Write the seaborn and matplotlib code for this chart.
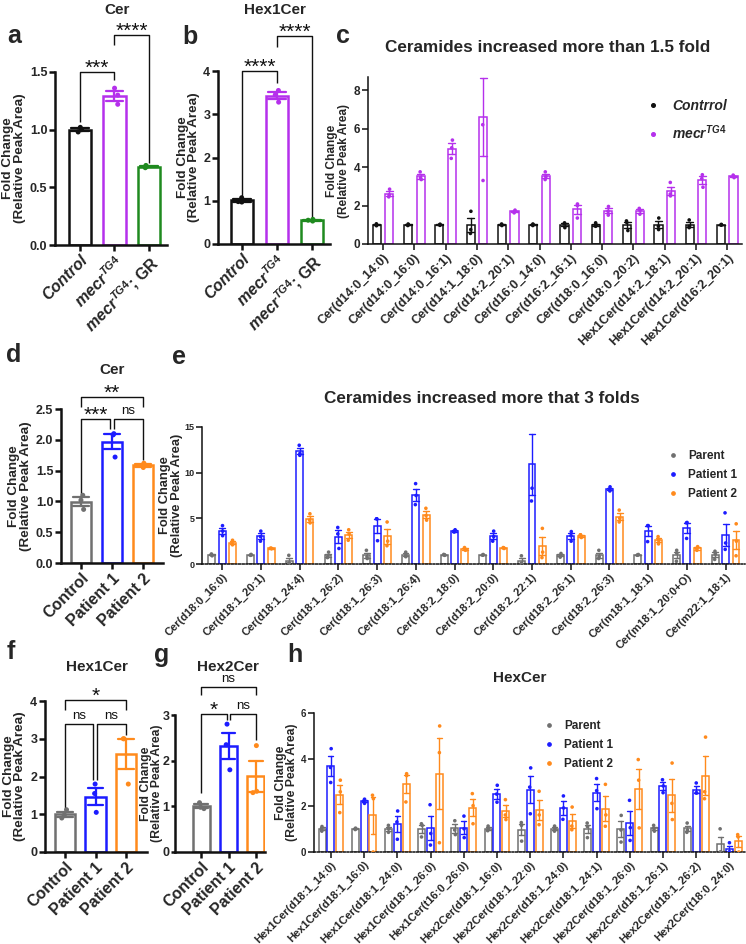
import numpy as np
import pandas as pd
import matplotlib
matplotlib.use("Agg")
import matplotlib.pyplot as plt
from matplotlib.lines import Line2D
import seaborn as sns

# ---------------- data ----------------
a_cats = ["Control", "mecr", "GR"]
a_vals = [[1.02, 1.00, 0.98], [1.36, 1.30, 1.22], [0.69, 0.68, 0.67]]
b_vals = [[1.07, 0.98, 0.97], [3.55, 3.45, 3.28], [0.57, 0.55, 0.53]]

c_groups = ["Cer(d14:0_14:0)", "Cer(d14:0_16:0)", "Cer(d14:0_16:1)", "Cer(d14:1_18:0)",
            "Cer(d14:2_20:1)", "Cer(d16:0_14:0)", "Cer(d16:2_16:1)", "Cer(d18:0_16:0)",
            "Cer(d18:0_20:2)", "Hex1Cer(d14:2_18:1)", "Hex1Cer(d14:2_20:1)", "Hex1Cer(d16:2_20:1)"]
c_control = [[1.05, 1.00, 0.95], [1.04, 1.00, 0.96], [1.03, 1.00, 0.97], [1.70, 0.75, 0.55],
             [1.04, 1.00, 0.96], [1.04, 1.00, 0.96], [1.10, 1.05, 0.85], [1.10, 1.00, 0.92],
             [1.20, 1.12, 0.70], [1.35, 0.92, 0.75], [1.25, 0.92, 0.85], [1.02, 1.00, 0.98]]
c_mecr = [[2.85, 2.55, 2.45], [3.75, 3.45, 3.35], [5.40, 5.00, 4.45], [6.20, 3.30, 10.30],
          [1.76, 1.70, 1.62], [3.75, 3.50, 3.35], [2.08, 2.00, 1.35], [1.95, 1.70, 1.50],
          [1.85, 1.75, 1.55], [3.20, 2.60, 2.50], [3.60, 3.40, 2.95], [3.58, 3.50, 3.45]]

d_cats = ["Control", "Patient 1", "Patient 2"]
d_vals = [[1.10, 1.02, 0.87], [2.10, 2.08, 1.72], [1.62, 1.58, 1.55]]

e_groups = ["Cer(d18:0_16:0)", "Cer(d18:1_20:1)", "Cer(d18:1_24:4)", "Cer(d18:1_26:2)",
            "Cer(d18:1_26:3)", "Cer(d18:1_26:4)", "Cer(d18:2_18:0)", "Cer(d18:2_20:0)",
            "Cer(d18:2_22:1)", "Cer(d18:2_26:1)", "Cer(d18:2_26:3)", "Cer(m18:1_18:1)",
            "Cer(m18:1_20:0+O)", "Cer(m22:1_18:1)"]
e_parent = [[1.10, 1.00, 0.90], [1.05, 1.00, 0.95], [0.95, 0.10, 0.05], [1.30, 0.80, 0.70],
            [1.50, 0.80, 0.60], [1.30, 0.95, 0.80], [1.05, 1.00, 0.95], [1.04, 1.00, 0.96],
            [0.90, 0.10, 0.00], [1.15, 0.95, 0.75], [1.50, 0.80, 0.60], [1.04, 1.00, 0.96],
            [1.50, 1.20, 0.30], [1.40, 1.10, 0.50]]
e_p1 = [[4.20, 3.60, 3.10], [3.60, 3.00, 2.50], [13.00, 12.10, 11.90], [4.00, 3.30, 1.70],
        [4.95, 4.95, 2.55], [8.80, 7.50, 6.50], [3.75, 3.60, 3.50], [3.60, 3.00, 2.50],
        [8.30, 6.90, 17.50], [3.55, 3.10, 2.50], [8.45, 8.20, 8.00], [4.20, 4.20, 2.45],
        [4.55, 4.50, 2.80], [5.60, 2.30, 1.60]]
e_p2 = [[2.60, 2.30, 2.10], [1.75, 1.70, 1.68], [5.50, 4.80, 4.50], [3.75, 3.30, 2.60],
        [4.60, 2.50, 2.00], [6.10, 5.30, 4.80], [1.80, 1.60, 1.50], [1.80, 1.75, 1.70],
        [3.90, 1.30, 0.70], [3.20, 3.20, 2.90], [5.90, 5.00, 4.60], [3.00, 2.60, 2.20],
        [1.90, 1.70, 1.50], [4.40, 2.50, 0.90]]

f_vals = [[1.12, 0.98, 0.90], [1.80, 1.55, 1.05], [3.00, 3.00, 1.80]]
g_vals = [[1.08, 0.98, 0.95], [2.80, 2.35, 1.80], [2.33, 1.33, 1.30]]

h_groups = ["Hex1Cer(d18:1_14:0)", "Hex1Cer(d18:1_16:0)", "Hex1Cer(d18:1_24:0)",
            "Hex1Cer(d18:1_26:0)", "Hex1Cer(t16:0_26:0)", "Hex2Cer(d18:1_16:0)",
            "Hex2Cer(d18:1_22:0)", "Hex2Cer(d18:1_24:0)", "Hex2Cer(d18:1_24:1)",
            "Hex2Cer(d18:1_26:0)", "Hex2Cer(d18:1_26:1)", "Hex2Cer(d18:1_26:2)",
            "Hex2Cer(t18:0_24:0)"]
h_parent = [[1.10, 1.00, 0.90], [1.03, 1.00, 0.97], [1.15, 1.00, 0.85], [1.22, 1.15, 0.65],
            [1.35, 0.95, 0.75], [1.12, 1.00, 0.92], [1.27, 1.15, 0.47], [1.12, 1.00, 0.90],
            [1.25, 1.10, 0.62], [1.58, 0.95, 0.43], [1.15, 1.00, 0.90], [1.25, 0.95, 0.85],
            [1.00, 0.00, 0.00]]
h_p1 = [[4.46, 3.65, 3.00], [2.28, 2.20, 2.10], [1.77, 1.30, 0.55], [2.04, 0.80, 0.30],
        [1.55, 1.00, 0.62], [2.88, 2.50, 2.15], [3.63, 2.80, 1.65], [2.42, 1.90, 1.41],
        [3.17, 2.65, 1.87], [2.23, 1.05, 0.50], [3.12, 2.85, 2.56], [2.98, 2.55, 2.55],
        [0.40, 0.00, 0.00]]
h_p2 = [[3.10, 2.60, 1.70], [2.45, 2.30, 0.00], [3.38, 3.30, 2.16], [5.44, 4.29, 0.40],
        [2.52, 2.00, 1.22], [2.26, 1.60, 1.40], [2.62, 1.60, 1.18], [1.94, 1.12, 0.96],
        [2.92, 1.60, 1.11], [3.99, 3.10, 1.04], [3.84, 2.10, 1.40], [4.96, 2.60, 2.30],
        [0.75, 0.65, 0.00]]

# ---------------- style ----------------
sns.set_theme(style="ticks")
plt.rcParams["font.family"] = ["Liberation Sans", "DejaVu Sans"]
plt.rcParams["font.weight"] = "bold"
plt.rcParams["axes.labelweight"] = "bold"
plt.rcParams["mathtext.fontset"] = "custom"
plt.rcParams["mathtext.it"] = "Liberation Sans:italic:bold"
plt.rcParams["mathtext.rm"] = "Liberation Sans:bold"
plt.rcParams["mathtext.bf"] = "Liberation Sans:bold"
np.random.seed(3)

BLACK = "#111111"
PURPLE = "#B530EC"
GREEN = "#1F8A1F"
GRAY = "#707070"
BLUE = "#1C1CFF"
ORANGE = "#FF8A1C"

W, H = 746, 944
fig = plt.figure(figsize=(W / 100, H / 100), dpi=100)


def add_ax(x0, y0, x1, y1):
    return fig.add_axes([x0 / W, 1 - y1 / H, (x1 - x0) / W, (y1 - y0) / H])


def style_axes(ax, lw, tick_size, ylab_size, labelpad):
    sns.despine(ax=ax)
    for s in ("left", "bottom"):
        ax.spines[s].set_linewidth(lw)
        ax.spines[s].set_color(BLACK)
    ax.tick_params(axis="both", width=lw, length=4, color=BLACK, pad=1.5)
    ax.tick_params(axis="y", labelsize=tick_size)
    ax.set_ylabel("Fold Change\n(Relative Peak Area)", fontsize=ylab_size,
                  fontweight="bold", labelpad=labelpad, linespacing=0.95)
    ax.set_xlabel("")
    for t in ax.get_yticklabels():
        t.set_fontweight("bold")


def simple_panel(ax, vals, colors, width, xlim, ylim, yticks, yfmt, xlabels, lw=1.8,
                 labelpad=3, ylab_size=9.7):
    keys = ["k0", "k1", "k2"]
    df = pd.DataFrame({"grp": np.repeat(keys, [len(v) for v in vals]),
                       "value": np.concatenate(vals)})
    pal = dict(zip(keys, colors))
    sns.barplot(data=df, x="grp", y="value", hue="grp", order=keys, hue_order=keys,
                palette=pal, errorbar="se", capsize=0.5, fill=False, width=width,
                linewidth=lw, err_kws={"linewidth": lw * 0.9}, legend=False, ax=ax)
    sns.stripplot(data=df, x="grp", y="value", hue="grp", order=keys, hue_order=keys,
                  palette=pal, jitter=0.12, size=3.6, legend=False, ax=ax, zorder=5)
    ax.set_xlim(*xlim)
    ax.set_ylim(*ylim)
    ax.set_yticks(yticks)
    ax.set_yticklabels([yfmt.format(v) for v in yticks])
    ax.set_xticks(range(3))
    style_axes(ax, lw, 9, ylab_size, labelpad)
    ax.set_xticklabels(xlabels, rotation=45, ha="right", rotation_mode="anchor",
                       fontsize=11.5, fontweight="bold")


def grouped_panel(ax, groups, names, series, colors, gap, xlim, ylim, yticks,
                  tick_size, xlab_size, ylab_size, dotted=False, labelpad=3):
    rows = []
    for nm, ser in zip(names, series):
        for g, v in zip(groups, ser):
            for x in v:
                rows.append((g, nm, x))
    df = pd.DataFrame(rows, columns=["grp", "series", "value"])
    pal = dict(zip(names, colors))
    sns.barplot(data=df, x="grp", y="value", hue="series", order=groups, hue_order=names,
                palette=pal, errorbar="se", capsize=0.45, fill=False, width=0.8, gap=gap,
                linewidth=1.1, err_kws={"linewidth": 1.0}, legend=False, ax=ax)
    sns.stripplot(data=df, x="grp", y="value", hue="series", order=groups, hue_order=names,
                  palette=pal, dodge=True, jitter=0.05, size=2.6, legend=False, ax=ax,
                  zorder=5)
    ax.set_xlim(*xlim)
    ax.set_ylim(*ylim)
    ax.set_yticks(yticks)
    ax.set_xticks(range(len(groups)))
    style_axes(ax, 1.1, tick_size, ylab_size, labelpad)
    ax.set_xticklabels(groups, rotation=45, ha="right", rotation_mode="anchor",
                       fontsize=xlab_size, fontweight="bold")
    if dotted:
        ax.spines["bottom"].set_linestyle((0, (1.2, 1.2)))


def bracket(ax, x1, x2, ytop, y1, y2, text, stars=True, lw=1.0):
    ax.plot([x1, x1, x2, x2], [y1, ytop, ytop, y2], color=BLACK, lw=lw,
            clip_on=False, solid_capstyle="butt")
    if stars:
        fs, wt, dy = 15, "normal", 2.4
    else:
        fs, wt, dy = 9.5, "normal", 5.8
    ax.annotate(text, xy=((x1 + x2) / 2, ytop), xytext=(0, dy), textcoords="offset points",
                ha="center", va="center", fontsize=fs, fontweight=wt, color=BLACK,
                annotation_clip=False)


def ftext(x, y, s, size, **kw):
    fig.text(x / W, 1 - y / H, s, fontsize=size, fontweight="bold", ha=kw.pop("ha", "center"),
             va=kw.pop("va", "center"), **kw)


mecr_lbl = r"$mecr^{TG4}$"

# ---------------- panel a ----------------
ax = add_ax(55, 72, 167, 245)
simple_panel(ax, a_vals, [BLACK, PURPLE, GREEN], 0.64, (-0.72, 2.52), (0, 1.5),
             [0.0, 0.5, 1.0, 1.5], "{:.1f}",
             ["Control", mecr_lbl, mecr_lbl + "; GR"])
ax.get_xticklabels()[0].set_fontstyle("italic")
bracket(ax, 0, 1, 1.5, 1.07, 1.43, "***")
bracket(ax, 1, 2, 1.82, 1.73, 0.71, "****")

# ---------------- panel b ----------------
ax = add_ax(218, 71, 330, 244)
simple_panel(ax, b_vals, [BLACK, PURPLE, GREEN], 0.64, (-0.69, 2.51), (0, 4),
             [0, 1, 2, 3, 4], "{:.0f}",
             ["Control", mecr_lbl, mecr_lbl + "; GR"], labelpad=2)
ax.get_xticklabels()[0].set_fontstyle("italic")
bracket(ax, 0, 1, 4.0, 1.12, 3.72, "****")
bracket(ax, 1, 2, 4.81, 4.55, 0.6, "****")

# ---------------- panel c ----------------
ax = add_ax(368, 77, 742, 244)
grouped_panel(ax, c_groups, ["Control", "mecr"], [c_control, c_mecr], [BLACK, PURPLE],
              0.35, (-0.48, 11.47), (0, 8.68), [0, 2, 4, 6, 8], 8.5, 9.0, 8.6)
leg_handles = [Line2D([], [], marker="o", ls="", color=BLACK, markersize=2.6),
               Line2D([], [], marker="o", ls="", color=PURPLE, markersize=2.6)]
ax.legend(leg_handles, ["Contrrol", mecr_lbl], frameon=False, loc="upper left",
          bbox_to_anchor=(640 / W, 1 - 93 / H), bbox_transform=fig.transFigure,
          prop={"size": 10, "weight": "bold", "style": "italic"},
          handletextpad=0.9, labelspacing=0.75, handlelength=1.0, borderaxespad=0)

# ---------------- panel d ----------------
ax = add_ax(61, 409, 163, 563)
simple_panel(ax, d_vals, [GRAY, BLUE, ORANGE], 0.65, (-0.65, 2.65), (0, 2.5),
             [0.0, 0.5, 1.0, 1.5, 2.0, 2.5], "{:.1f}", d_cats)
bracket(ax, 0, 0.94, 2.34, 1.12, 2.17, "***")
bracket(ax, 1.06, 2, 2.34, 2.17, 1.67, "ns", stars=False)
bracket(ax, 0, 2, 2.70, 2.53, 2.53, "**")

# ---------------- panel e ----------------
ax = add_ax(202, 427, 745, 564)
grouped_panel(ax, e_groups, ["Parent", "Patient 1", "Patient 2"], [e_parent, e_p1, e_p2],
              [GRAY, BLUE, ORANGE], 0.33, (-0.52, 13.5), (0, 15), [0, 5, 10, 15], 6.5, 8.0,
              9.3, dotted=True, labelpad=1)
leg_handles = [Line2D([], [], marker="o", ls="", color=c, markersize=2.4)
               for c in (GRAY, BLUE, ORANGE)]
ax.legend(leg_handles, ["Parent", "Patient 1", "Patient 2"], frameon=False, loc="upper left",
          bbox_to_anchor=(662 / W, 1 - 445 / H), bbox_transform=fig.transFigure,
          prop={"size": 8.5, "weight": "bold"}, handletextpad=0.8, labelspacing=0.6,
          handlelength=1.0, borderaxespad=0)

# ---------------- panel f ----------------
ax = add_ax(45, 701, 147, 852)
simple_panel(ax, f_vals, [GRAY, BLUE, ORANGE], 0.66, (-0.66, 2.69), (0, 4),
             [0, 1, 2, 3, 4], "{:.0f}", d_cats)
bracket(ax, 0, 0.93, 3.39, 1.16, 1.9, "ns", stars=False)
bracket(ax, 1.05, 2, 3.39, 1.9, 3.1, "ns", stars=False)
bracket(ax, 0, 2, 4.03, 3.76, 3.76, "*")

# ---------------- panel g ----------------
ax = add_ax(175, 715, 265, 852)
simple_panel(ax, g_vals, [GRAY, BLUE, ORANGE], 0.62, (-0.95, 2.33), (0, 3),
             [0, 1, 2, 3], "{:.0f}", d_cats, labelpad=-0.5, ylab_size=8.8)
ax.tick_params(axis="y", length=3, pad=0.8)
bracket(ax, 0, 0.94, 3.02, 1.29, 2.89, "*")
bracket(ax, 1.06, 2, 3.02, 2.89, 2.45, "ns", stars=False)
bracket(ax, 0, 2, 3.61, 3.44, 3.44, "ns", stars=False)

# ---------------- panel h ----------------
ax = add_ax(314, 713, 745, 852)
grouped_panel(ax, h_groups, ["Parent", "Patient 1", "Patient 2"], [h_parent, h_p1, h_p2],
              [GRAY, BLUE, ORANGE], 0.21, (-0.51, 12.47), (0, 6), [0, 2, 4, 6], 7, 8.0,
              8.8, dotted=True, labelpad=2)
leg_handles = [Line2D([], [], marker="o", ls="", color=c, markersize=2.4)
               for c in (GRAY, BLUE, ORANGE)]
ax.legend(leg_handles, ["Parent", "Patient 1", "Patient 2"], frameon=False, loc="upper left",
          bbox_to_anchor=(538 / W, 1 - 715 / H), bbox_transform=fig.transFigure,
          prop={"size": 8.5, "weight": "bold"}, handletextpad=0.8, labelspacing=0.6,
          handlelength=1.0, borderaxespad=0)

# ---------------- titles & panel letters ----------------
ftext(117, 10, "Cer", 11)
ftext(275, 10, "Hex1Cer", 11)
ftext(548, 48, "Ceramides increased more than 1.5 fold", 12.3)
ftext(112, 370, "Cer", 11)
ftext(482, 399, "Ceramides increased more that 3 folds", 12.3)
ftext(97, 667, "Hex1Cer", 11)
ftext(228, 667, "Hex2Cer", 11)
ftext(520, 678, "HexCer", 11)

for lbl, x, y in [("a", 7, 36), ("b", 182, 37), ("c", 336, 36), ("d", 6, 355),
                  ("e", 172, 357), ("f", 7, 652), ("g", 154, 655), ("h", 287, 655)]:
    ftext(x, y, lbl, 18, ha="left")

fig.savefig("out.png", dpi=100)
